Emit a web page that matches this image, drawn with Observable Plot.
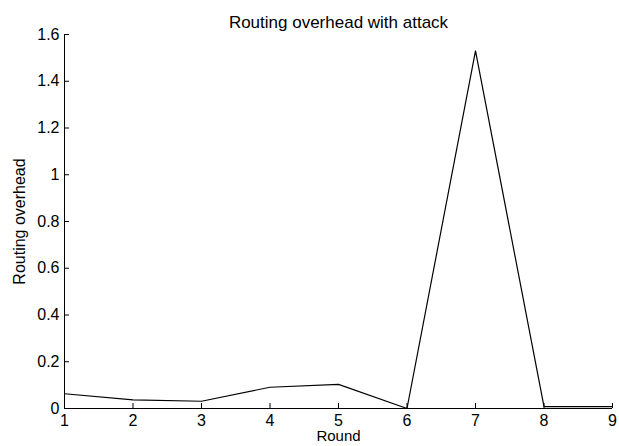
<!DOCTYPE html>
<html>
<head>
<meta charset="utf-8">
<script src="https://cdn.jsdelivr.net/npm/d3@7"></script>
<script src="https://cdn.jsdelivr.net/npm/@observablehq/plot@0.6"></script>
<style>
  html, body { margin: 0; padding: 0; background: #fff; }
  #chart svg { display: block; font-family: "Liberation Sans", Arial, sans-serif; }
</style>
</head>
<body>
<div id="chart"></div>
<script>
// Routing overhead per round
const rounds = [1, 2, 3, 4, 5, 6, 7, 8, 9];
const overhead = [0.063, 0.037, 0.031, 0.091, 0.103, 0.0, 1.53, 0.008, 0.008];

const xTicks = [1, 2, 3, 4, 5, 6, 7, 8, 9];
const yTicks = [0, 0.2, 0.4, 0.6, 0.8, 1, 1.2, 1.4, 1.6];

const titleText = "Routing overhead with attack";
const xLabel = "Round";
const yLabel = "Routing overhead";

const data = rounds.map((r, i) => ({round: r, value: overhead[i]}));

const chart = Plot.plot({
  width: 619,
  height: 446,
  marginTop: 34,
  marginBottom: 38,
  marginLeft: 64,
  marginRight: 7,
  style: {fontSize: "16px", fontFamily: "'Liberation Sans', Arial, sans-serif", color: "#000", background: "#fff"},
  x: {domain: [1, 9], axis: null},
  y: {domain: [0, 1.6], axis: null},
  marks: [
    // axis lines (left and bottom only)
    Plot.ruleX([1], {stroke: "#000", strokeWidth: 1}),
    Plot.ruleY([0], {stroke: "#000", strokeWidth: 1}),
    // inward-pointing tick marks
    Plot.ruleX(xTicks, {x: d => d, y1: 0, y2: 0, insetTop: -5, stroke: "#000", strokeWidth: 1}),
    Plot.ruleY(yTicks, {y: d => d, x1: 1, x2: 1, insetRight: -5, stroke: "#000", strokeWidth: 1}),
    // tick labels
    Plot.axisX(xTicks, {anchor: "bottom", tickSize: 0, tickPadding: 6, label: null, tickFormat: d => String(d), fill: "#000", fontSize: 16}),
    Plot.axisY(yTicks, {anchor: "left", tickSize: 0, tickPadding: 5, label: null, tickFormat: d => String(d), fill: "#000", fontSize: 16}),
    Plot.line(data, {x: "round", y: "value", stroke: "#000", strokeWidth: 1.2}),
    Plot.text([titleText], {frameAnchor: "top", dy: -19, fontSize: 17, fill: "#000"}),
    Plot.text([xLabel], {frameAnchor: "bottom", lineAnchor: "middle", dy: 28, fontSize: 15, fill: "#000"}),
    Plot.text([yLabel], {frameAnchor: "left", textAnchor: "middle", lineAnchor: "middle", dx: -45, rotate: -90, fontSize: 16, fill: "#000"})
  ]
});

document.getElementById("chart").appendChild(chart);
</script>
</body>
</html>
